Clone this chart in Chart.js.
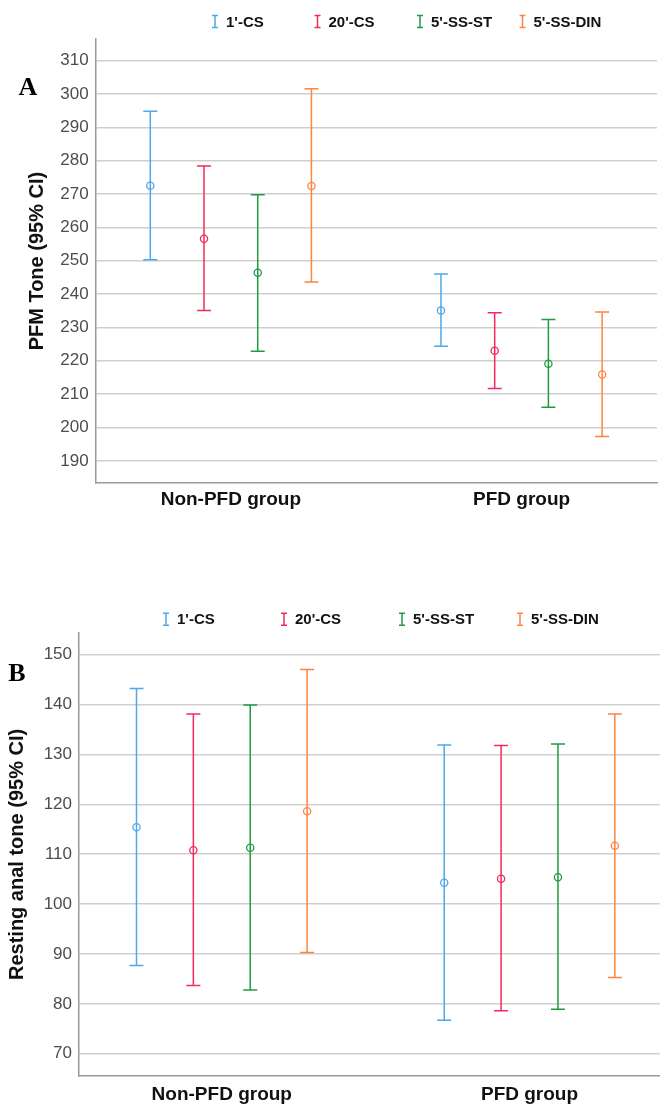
<!DOCTYPE html>
<html>
<head>
<meta charset="utf-8">
<script src="https://cdn.jsdelivr.net/npm/chart.js@4.4.0/dist/chart.umd.min.js"></script>
<style>
  body { margin: 0; background: #fff; }
  .wrap { position: absolute; left: 0; width: 665px; }
  #wrapA { top: 0; height: 530px; }
  #wrapB { top: 540px; height: 573px; }
</style>
</head>
<body>
<div class="wrap" id="wrapA"><canvas id="chartA"></canvas></div>
<div class="wrap" id="wrapB"><canvas id="chartB"></canvas></div>
<script>
const groups = ['Non-PFD group', 'PFD group'];
const series = ["1'-CS", "20'-CS", "5'-SS-ST", "5'-SS-DIN"];
const colors = ['#4ea8ea', '#f42a5c', '#1f9c40', '#ff8442'];

// PFM tone, one row per series: [Non-PFD, PFD]
const pfmMean = [[272.5, 235.1], [256.6, 223.0], [246.4, 219.1], [272.4, 215.9]];
const pfmLow  = [[250.3, 224.4], [235.1, 211.7], [222.9, 206.1], [243.6, 197.3]];
const pfmHigh = [[294.8, 246.0], [278.4, 234.4], [269.8, 232.4], [301.6, 234.6]];
const pfmTicks = [190, 200, 210, 220, 230, 240, 250, 260, 270, 280, 290, 300, 310];

// resting anal tone
const ratMean = [[115.4, 104.3], [110.8, 105.1], [111.3, 105.4], [118.6, 111.7]];
const ratLow  = [[87.7, 76.7], [83.7, 78.6], [82.8, 78.9], [90.3, 85.3]];
const ratHigh = [[143.2, 131.9], [138.1, 131.8], [139.9, 132.1], [147.0, 138.1]];
const ratTicks = [70, 80, 90, 100, 110, 120, 130, 140, 150];

const SANS = '"Liberation Sans", Arial, sans-serif';
const spread = 0.1848; // distance between series inside a group (x units)

// draws the CI whiskers under the mean circles
const errorBars = {
  id: 'errorBars',
  beforeDatasetsDraw(chart) {
    const ctx = chart.ctx;
    const xs = chart.scales.x, ys = chart.scales.y;
    ctx.save();
    ctx.lineWidth = 1.5;
    chart.data.datasets.forEach(ds => {
      ctx.strokeStyle = ds.borderColor;
      ds.data.forEach(p => {
        const x = xs.getPixelForValue(p.x);
        const yl = ys.getPixelForValue(p.lo);
        const yh = ys.getPixelForValue(p.hi);
        ctx.beginPath();
        ctx.moveTo(x, yl); ctx.lineTo(x, yh);
        ctx.moveTo(x - 7, yl); ctx.lineTo(x + 7, yl);
        ctx.moveTo(x - 7, yh); ctx.lineTo(x + 7, yh);
        ctx.stroke();
      });
    });
    ctx.restore();
  }
};

// SPSS style legend on a fixed column grid + the panel letter
const legendAndLetter = {
  id: 'legendAndLetter',
  afterDraw(chart, args, opts) {
    const ctx = chart.ctx;
    ctx.save();
    chart.data.datasets.forEach((ds, i) => {
      const mx = opts.x0 + i * opts.step, my = opts.y;
      ctx.strokeStyle = ds.borderColor;
      ctx.lineWidth = 1.5;
      ctx.beginPath();
      ctx.moveTo(mx, my - 6); ctx.lineTo(mx, my + 6);
      ctx.moveTo(mx - 3, my - 6); ctx.lineTo(mx + 3, my - 6);
      ctx.moveTo(mx - 3, my + 6); ctx.lineTo(mx + 3, my + 6);
      ctx.stroke();
      ctx.fillStyle = '#111';
      ctx.font = 'bold 15px ' + SANS;
      ctx.textAlign = 'left';
      ctx.textBaseline = 'middle';
      ctx.fillText(ds.label, mx + 11, my + 1);
    });
    ctx.fillStyle = '#000';
    ctx.font = 'bold 26px "Liberation Serif", "Times New Roman", serif';
    ctx.textAlign = 'center';
    ctx.textBaseline = 'middle';
    ctx.fillText(opts.letter, opts.letterX, opts.letterY);
    ctx.restore();
  }
};

function makeChart(id, cfg) {
  const datasets = series.map((name, s) => ({
    label: name,
    data: groups.map((g, i) => ({
      x: i + (s - 1.5) * spread,
      y: cfg.mean[s][i],
      lo: cfg.low[s][i],
      hi: cfg.high[s][i]
    })),
    borderColor: colors[s],
    backgroundColor: 'rgba(0,0,0,0)',
    pointStyle: 'circle',
    pointRadius: 3.6,
    borderWidth: 1.3,
    showLine: false
  }));

  return new Chart(document.getElementById(id), {
    type: 'scatter',
    data: { datasets: datasets },
    plugins: [errorBars, legendAndLetter],
    options: {
      responsive: true,
      maintainAspectRatio: false,
      animation: false,
      layout: { padding: cfg.padding },
      plugins: {
        legend: { display: false },
        tooltip: { enabled: false },
        legendAndLetter: cfg.legend
      },
      scales: {
        x: {
          type: 'linear',
          min: cfg.xMin,
          max: cfg.xMax,
          afterBuildTicks: axis => { axis.ticks = groups.map((g, i) => ({ value: i })); },
          grid: { display: false, drawTicks: false },
          border: { color: '#9a9a9a', width: 1.5 },
          ticks: {
            padding: cfg.xPad,
            color: '#111',
            font: { family: SANS, size: 19, weight: 'bold' },
            maxRotation: 0,
            callback: v => groups[v]
          }
        },
        y: {
          min: cfg.yMin,
          max: cfg.yMax,
          afterBuildTicks: axis => { axis.ticks = cfg.ticks.map(v => ({ value: v })); },
          afterFit: axis => { axis.width = cfg.yWidth; },
          grid: { color: '#cfcfcf', lineWidth: 1.5, drawTicks: false },
          border: { color: '#9a9a9a', width: 1.5 },
          ticks: {
            padding: 7,
            color: '#4d4d4d',
            font: { family: SANS, size: 17 }
          },
          title: {
            display: true,
            text: cfg.title,
            color: '#111',
            padding: { top: cfg.titlePad, bottom: 0 },
            font: { family: SANS, size: 20, weight: 'bold' }
          }
        }
      }
    }
  });
}

makeChart('chartA', {
  mean: pfmMean, low: pfmLow, high: pfmHigh, ticks: pfmTicks,
  title: 'PFM Tone (95% CI)',
  yMin: 183.3, yMax: 316.5, xMin: -0.465, xMax: 1.466,
  yWidth: 95.7, titlePad: 25, xPad: 5,
  padding: { top: 39, right: 8, bottom: 14, left: 0 },
  legend: { x0: 215, step: 102.5, y: 21.5, letter: 'A', letterX: 28, letterY: 88 }
});

makeChart('chartB', {
  mean: ratMean, low: ratLow, high: ratHigh, ticks: ratTicks,
  title: 'Resting anal tone (95% CI)',
  yMin: 65.5, yMax: 154.4, xMin: -0.464, xMax: 1.423,
  yWidth: 79, titlePad: 5, xPad: 7,
  padding: { top: 92.7, right: 0, bottom: 0, left: 0 },
  legend: { x0: 166, step: 118, y: 79.3, letter: 'B', letterX: 17, letterY: 134 }
});
</script>
</body>
</html>
